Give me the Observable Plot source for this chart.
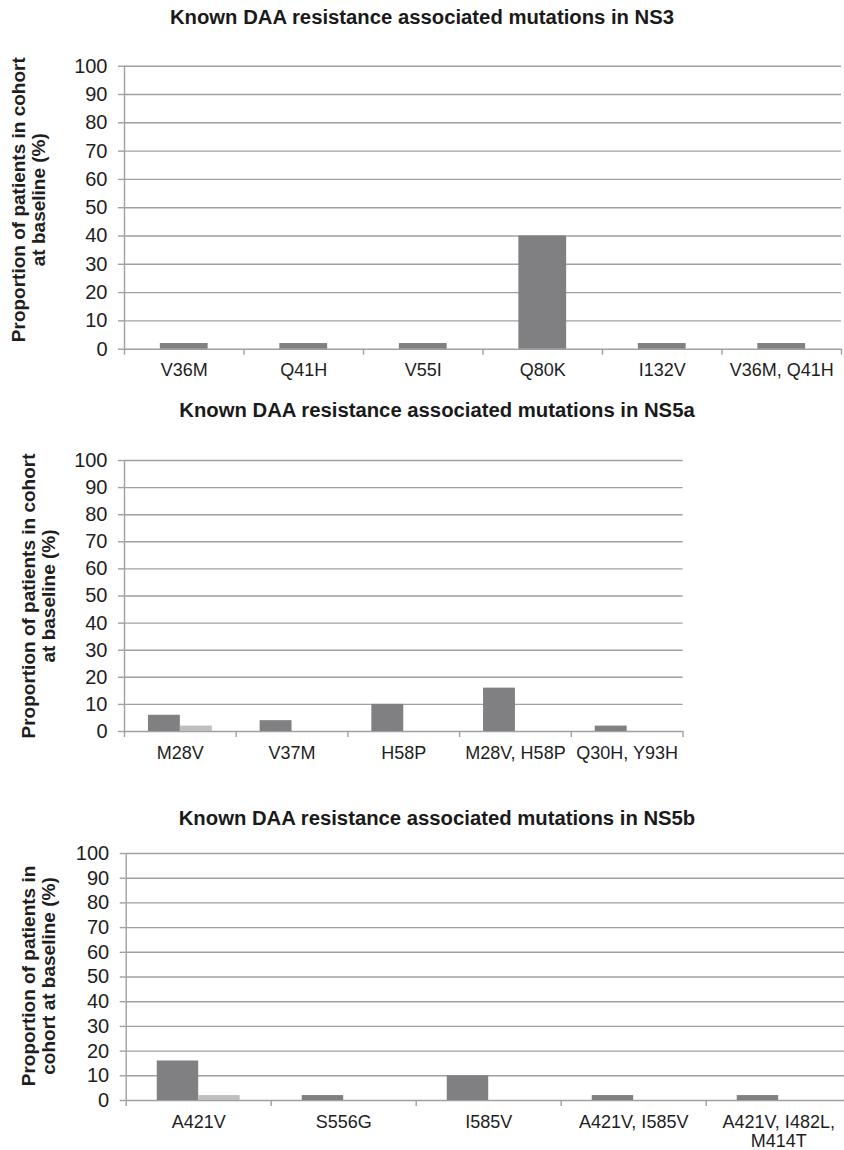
<!DOCTYPE html>
<html>
<head>
<meta charset="utf-8">
<script src="https://cdn.jsdelivr.net/npm/d3@7"></script>
<script src="https://cdn.jsdelivr.net/npm/@observablehq/plot@0.6"></script>
<style>
  html, body { margin: 0; padding: 0; background: #fff; overflow: hidden; }
  #wrap { position: relative; width: 844px; height: 1150px; font-family: "Liberation Sans", Arial, sans-serif; }
  .title { position: absolute; width: 800px; text-align: center; font-weight: bold; font-size: 20.3px; line-height: 24px; color: #1a1a1a; white-space: nowrap; }
</style>
</head>
<body>
<div id="wrap"></div>
<script>
// ---- data ----
const ns3Title = "Known DAA resistance associated mutations in NS3";
const ns3Categories = ["V36M", "Q41H", "V55I", "Q80K", "I132V", "V36M, Q41H"];
const ns3Values = [2, 2, 2, 40, 2, 2];

const ns5aTitle = "Known DAA resistance associated mutations in NS5a";
const ns5aCategories = ["M28V", "V37M", "H58P", "M28V, H58P", "Q30H, Y93H"];
const ns5aDark = [6, 4, 10, 16, 2];
const ns5aLight = [2, 0, 0, 0, 0];

const ns5bTitle = "Known DAA resistance associated mutations in NS5b";
const ns5bCategories = ["A421V", "S556G", "I585V", "A421V, I585V", "A421V, I482L,\nM414T"];
const ns5bDark = [16, 2, 10, 2, 2];
const ns5bLight = [2, 0, 0, 0, 0];

const yTicks = [0, 10, 20, 30, 40, 50, 60, 70, 80, 90, 100];
const yLabelA = "Proportion of patients in cohort\nat baseline (%)";
const yLabelB = "Proportion of patients in\ncohort at baseline (%)";

// ---- styles ----
const darkFill = "#808083";
const lightFill = "#bfbfbf";
const gridColor = "#a0a0a0";
const textColor = "#1e1e1e";
const font = "\"Liberation Sans\", Arial, sans-serif";

function panel({title, titleX, titleY, categories, series, top, height, marginTop, marginBottom, xRange, yLabel, labelDx, labelDy}) {
  const n = categories.length;
  const k = series.length;
  const gap = 1.5;
  const w = 1 / (k + gap);
  const bars = [];
  series.forEach((s, si) => s.values.forEach((v, i) => bars.push({i, si, v, fill: s.fill})));

  const wrap = document.getElementById("wrap");
  const t = document.createElement("div");
  t.className = "title";
  t.textContent = title;
  t.style.left = (titleX - 400) + "px";
  t.style.top = (titleY - 12) + "px";
  wrap.appendChild(t);

  const chart = Plot.plot({
    width: 844,
    height,
    marginTop,
    marginBottom,
    marginLeft: xRange[0],
    marginRight: 0,
    style: {fontFamily: font, background: "transparent", overflow: "hidden"},
    x: {type: "linear", domain: [0, n], range: xRange, axis: null},
    y: {domain: [0, 100], axis: null},
    marks: [
      Plot.ruleY(yTicks, {x1: 0, x2: n, stroke: gridColor, strokeWidth: 1.4}),
      Plot.ruleX([0], {y1: 0, y2: 100, stroke: gridColor, strokeWidth: 1.4}),
      Plot.rectY(bars, {
        x1: d => d.i + gap * w / 2 + d.si * w,
        x2: d => d.i + gap * w / 2 + (d.si + 1) * w,
        y1: 0,
        y2: "v",
        fill: "fill"
      }),
      Plot.axisY(yTicks, {
        anchor: "left",
        tickSize: 6,
        tickPadding: 11,
        stroke: gridColor,
        strokeWidth: 1.4,
        fill: textColor,
        fontSize: 20,
        label: null
      }),
      Plot.axisX(d3.range(n + 1), {
        anchor: "bottom",
        tickSize: 6,
        tickFormat: () => "",
        stroke: gridColor,
        strokeWidth: 1.4,
        label: null
      }),
      Plot.axisX(d3.range(n).map(i => i + 0.5), {
        anchor: "bottom",
        tickSize: 0,
        tickPadding: 13,
        tickFormat: d => categories[Math.floor(d)],
        fill: textColor,
        fontSize: 18,
        lineHeight: 1.1,
        label: null
      }),
      Plot.text([yLabel], {
        frameAnchor: "left",
        text: d => d,
        rotate: -90,
        dx: labelDx,
        dy: labelDy,
        fontSize: 19,
        fontWeight: "bold",
        fill: textColor,
        lineHeight: 1.08,
        textAnchor: "middle",
        lineAnchor: "middle"
      })
    ]
  });
  chart.style.position = "absolute";
  chart.style.top = top + "px";
  chart.style.left = "0px";
  wrap.appendChild(chart);
}

panel({
  title: ns3Title, titleX: 422, titleY: 17,
  categories: ns3Categories,
  series: [{values: ns3Values, fill: darkFill}],
  top: 30, height: 360, marginTop: 35.7, marginBottom: 41.3,
  xRange: [124, 841],
  yLabel: yLabelA, labelDx: -96, labelDy: -8
});

panel({
  title: ns5aTitle, titleX: 437, titleY: 410,
  categories: ns5aCategories,
  series: [{values: ns5aDark, fill: darkFill}, {values: ns5aLight, fill: lightFill}],
  top: 430, height: 345, marginTop: 30, marginBottom: 44,
  xRange: [124, 682.5],
  yLabel: yLabelA, labelDx: -86, labelDy: 0
});

panel({
  title: ns5bTitle, titleX: 437, titleY: 818,
  categories: ns5bCategories,
  series: [{values: ns5bDark, fill: darkFill}, {values: ns5bLight, fill: lightFill}],
  top: 830, height: 320, marginTop: 23, marginBottom: 50,
  xRange: [125.7, 850.7],
  yLabel: yLabelB, labelDx: -88, labelDy: -1
});
</script>
</body>
</html>
